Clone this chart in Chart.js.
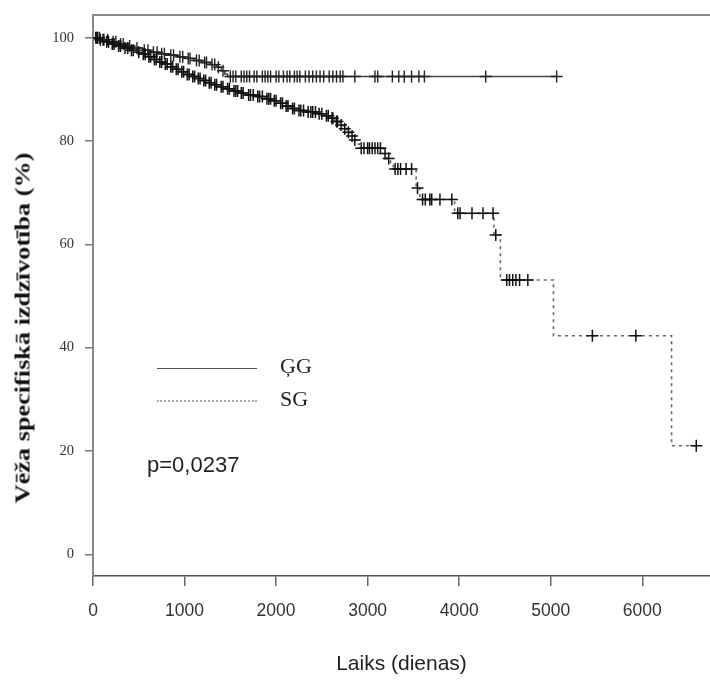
<!DOCTYPE html>
<html lang="lv">
<head>
<meta charset="utf-8">
<title>Vēža specifiskā izdzīvotība</title>
<script src="https://cdn.jsdelivr.net/npm/chart.js@4.4.1/dist/chart.umd.min.js"></script>
<style>
  html, body { margin: 0; padding: 0; background: #fff; }
  #wrap { position: relative; width: 710px; height: 680px; overflow: hidden; }
  #graf { position: absolute; left: 0; top: 0; }
  .ytitle {
    position: absolute; left: 23px; top: 328px;
    transform: translate(-50%, -50%) rotate(-90deg) scaleX(1.25);
    white-space: nowrap; font: bold 21px "Liberation Serif", "DejaVu Serif", serif; color: #111;
  }
  .leg-line { position: absolute; left: 157px; width: 100px; height: 0; }
  .leg-txt { position: absolute; left: 280px; font: 22px "Liberation Serif", serif; color: #222; line-height: 26px; }
  .pval { position: absolute; left: 147px; top: 451px; font: 22px "Liberation Sans", sans-serif; color: #222; line-height: 28px; }
</style>
</head>
<body>
<div id="wrap">
  <canvas id="graf" width="710" height="680"></canvas>
  <div class="ytitle">Vēža specifiskā izdzīvotība (%)</div>
  <div class="leg-line" style="top:368px; border-top:1.5px solid #555;"></div>
  <div class="leg-txt" style="top:353px;">ĢG</div>
  <div class="leg-line" style="top:400px; border-top:2px dotted #aaa;"></div>
  <div class="leg-txt" style="top:386px;">SG</div>
  <div class="pval">p=0,0237</div>
</div>
<script>
// ---------- dati ----------
// ĢG: notikumu laiki (dienas) un izdzīvotība (%) pēc notikuma
const ggTimes = [0, 90, 180, 270, 360, 450, 540, 630, 720, 820, 920, 1010, 1100, 1190, 1280, 1350, 1400, 1440, 1470];
const ggSurv = [100, 99.6, 99.2, 98.8, 98.4, 98.0, 97.6, 97.2, 96.9, 96.6, 96.3, 96.0, 95.6, 95.2, 94.8, 94.3, 93.6, 93.0, 92.5];
// ĢG: cenzētie gadījumi (dienas)
const ggCens = [40, 70, 120, 160, 220, 250, 300, 330, 400, 480, 560, 600, 660, 700, 750, 780, 850, 880, 950, 980,
  1040, 1060, 1130, 1160, 1220, 1240, 1300, 1330, 1370, 1420, 1500, 1530, 1560, 1620, 1650, 1680, 1710, 1760, 1790,
  1850, 1880, 1910, 1940, 2000, 2030, 2080, 2120, 2150, 2200, 2230, 2260, 2320, 2360, 2400, 2440, 2480, 2520, 2580,
  2620, 2660, 2700, 2730, 2860, 3080, 3110, 3270, 3340, 3400, 3480, 3560, 3620, 4290, 5065];

// SG
const sgTimes = [0, 60, 130, 190, 260, 330, 400, 460, 530, 590, 650, 710, 770, 830, 890, 950, 1010, 1070, 1130, 1190,
  1250, 1310, 1380, 1450, 1520, 1600, 1680, 1780, 1880, 1960, 2030, 2090, 2160, 2230, 2330, 2450, 2530, 2590, 2640, 2690,
  2730, 2770, 2810, 2850, 2880, 2910, 3170, 3210, 3250, 3280, 3530, 3570, 3950, 4380, 4450, 5030, 6320];
const sgSurv = [100, 99.6, 99.2, 98.8, 98.4, 98.0, 97.6, 97.2, 96.8, 96.3, 95.8, 95.3, 94.9, 94.4, 93.9, 93.4, 92.9, 92.5, 92.1, 91.7,
  91.3, 90.9, 90.5, 90.1, 89.7, 89.3, 88.9, 88.6, 88.2, 87.8, 87.3, 86.8, 86.3, 85.9, 85.6, 85.3, 84.9, 84.4, 83.8, 83.1,
  82.4, 81.7, 81.0, 80.2, 79.4, 78.6, 77.6, 76.6, 75.6, 74.6, 70.9, 68.7, 66.0, 61.8, 53.1, 42.3, 21.0];
const sgCens = [30, 50, 80, 110, 150, 170, 210, 230, 280, 300, 350, 380, 420, 440, 500, 550, 570, 610, 630, 670, 690, 730,
  750, 790, 810, 850, 870, 910, 930, 970, 990, 1030, 1050, 1090, 1110, 1150, 1170, 1210, 1230, 1270, 1290, 1330, 1350,
  1400, 1420, 1470, 1490, 1540, 1560, 1580, 1620, 1640, 1700, 1720, 1750, 1800, 1820, 1850, 1900, 1920, 1940, 1980,
  2000, 2050, 2070, 2110, 2130, 2180, 2200, 2250, 2270, 2300, 2350, 2380, 2400, 2430, 2470, 2500, 2550, 2570, 2610,
  2620, 2660, 2670, 2710, 2750, 2790, 2830, 2860, 2930, 2960, 3000, 3020, 3050, 3080, 3110, 3140, 3190, 3230, 3300,
  3330, 3360, 3420, 3480, 3545, 3600, 3630, 3680, 3700, 3790, 3920, 3985, 4010, 4140, 4260, 4370, 4400, 4520, 4550,
  4585, 4620, 4660, 4750, 5455, 5930, 6590];

const xTicks = [0, 1000, 2000, 3000, 4000, 5000, 6000];
const yTicks = [0, 20, 40, 60, 80, 100];

// ---------- palīgfunkcijas ----------
// izdzīvotības vērtība laikā t (pakāpju funkcija)
function survAt(times, surv, t) {
  let v = surv[0];
  for (let i = 0; i < times.length; i++) {
    if (times[i] <= t) v = surv[i];
  }
  return v;
}

function kmPoints(times, surv, cens) {
  const pts = times.map((t, i) => ({ x: t, y: surv[i], c: 0 }));
  cens.forEach((t) => pts.push({ x: t, y: survAt(times, surv, t), c: 1 }));
  pts.sort((a, b) => a.x - b.x || a.c - b.c);
  return pts;
}

// augšējā rāmja līnija
const framePlugin = {
  id: "frame",
  afterDraw(chart) {
    const { ctx, chartArea: a } = chart;
    ctx.save();
    ctx.strokeStyle = "#8c8c8c";
    ctx.lineWidth = 2;
    ctx.beginPath();
    ctx.moveTo(a.left, a.top);
    ctx.lineTo(a.right, a.top);
    ctx.stroke();
    ctx.restore();
  },
};

// ---------- grafiks ----------
new Chart(document.getElementById("graf"), {
  type: "scatter",
  data: {
    datasets: [
      {
        label: "SG",
        data: kmPoints(sgTimes, sgSurv, sgCens),
        showLine: true,
        stepped: true,
        borderColor: "#666",
        borderWidth: 1.6,
        borderDash: [3, 4],
        pointStyle: "cross",
        pointRadius: (c) => (c.raw && c.raw.c ? 6 : 0),
        pointBorderColor: "#111",
        pointBorderWidth: 1.5,
        pointHoverRadius: 0,
      },
      {
        label: "ĢG",
        data: kmPoints(ggTimes, ggSurv, ggCens),
        showLine: true,
        stepped: true,
        borderColor: "#444",
        borderWidth: 1.5,
        pointStyle: "cross",
        pointRadius: (c) => (c.raw && c.raw.c ? 6 : 0),
        pointBorderColor: "#222",
        pointBorderWidth: 1.4,
        pointHoverRadius: 0,
      },
    ],
  },
  options: {
    responsive: false,
    animation: false,
    events: [],
    layout: { autoPadding: false, padding: { top: 15, left: 0, right: 0, bottom: 0 } },
    plugins: { legend: { display: false }, tooltip: { enabled: false } },
    scales: {
      x: {
        type: "linear",
        min: 0,
        max: 6740,
        afterFit: (s) => { s.height = 104; s.paddingLeft = 0; s.paddingRight = 0; },
        afterBuildTicks: (s) => { s.ticks = xTicks.map((v) => ({ value: v })); },
        grid: { drawOnChartArea: false, drawTicks: true, tickLength: 10, color: "#666", lineWidth: 1.5 },
        border: { display: true, color: "#555", width: 1.5 },
        ticks: {
          color: "#333",
          padding: 15,
          maxRotation: 0,
          callback: (v) => String(v),
          font: { family: "Liberation Sans", size: 17.5 },
        },
        title: {
          display: true,
          text: "Laiks (dienas)",
          color: "#222",
          font: { family: "Liberation Sans", size: 21 },
          padding: { top: 0, bottom: 3 },
        },
      },
      y: {
        min: -4.2,
        max: 104.4,
        afterFit: (s) => { s.width = 93; s.paddingTop = 0; s.paddingBottom = 0; },
        afterBuildTicks: (s) => { s.ticks = yTicks.map((v) => ({ value: v })); },
        grid: { drawOnChartArea: false, drawTicks: true, tickLength: 8, color: "#777", lineWidth: 1.5 },
        border: { display: true, color: "#888", width: 2 },
        ticks: {
          color: "#333",
          padding: 11,
          callback: (v) => String(v),
          font: { family: "Liberation Serif", size: 14.5 },
        },
      },
    },
  },
  plugins: [framePlugin],
});
</script>
</body>
</html>
